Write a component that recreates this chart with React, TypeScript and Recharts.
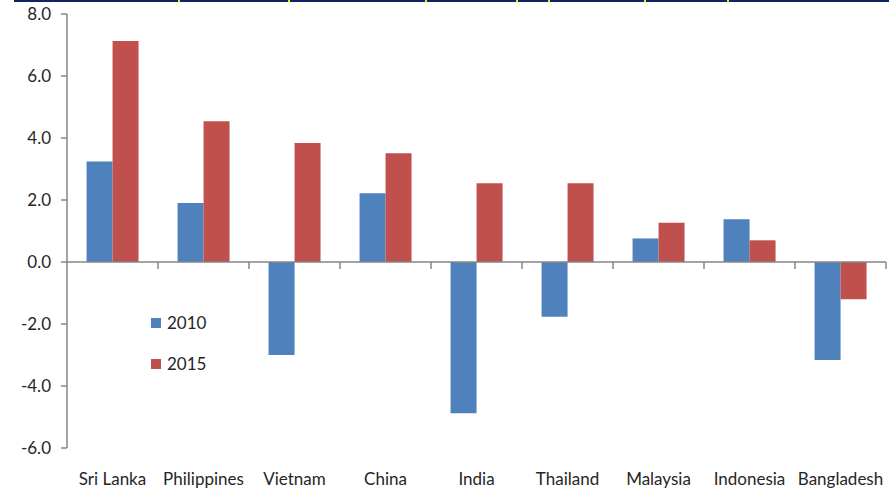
import React from "react";
import { BarChart, Bar, XAxis, YAxis, ReferenceLine, Legend } from "recharts";

// Country categories and yearly values
const countries = [
  "Sri Lanka",
  "Philippines",
  "Vietnam",
  "China",
  "India",
  "Thailand",
  "Malaysia",
  "Indonesia",
  "Bangladesh",
];
const values2010 = [3.24, 1.9, -3.0, 2.22, -4.88, -1.77, 0.76, 1.38, -3.16];
const values2015 = [7.13, 4.54, 3.84, 3.51, 2.54, 2.54, 1.27, 0.7, -1.2];
const yTicks = [-6, -4, -2, 0, 2, 4, 6, 8];

const data = countries.map((name, i) => ({
  name,
  y2010: values2010[i],
  y2015: values2015[i],
}));

const BLUE = "#4F81BD";
const RED = "#C0504D";
const AXIS = "#868686";
const TEXT = "#262626";
const FONT = "Lato, 'Open Sans', sans-serif";

// Header rule remnants along the top edge
const headerMarks = [179, 289, 426, 517, 549, 645, 728];

// Zero line with category separator ticks hanging below it
const ZeroAxis = (props: any) => {
  const { x1, y1, x2, y2 } = props;
  const step = (x2 - x1) / countries.length;
  return (
    <g>
      <line x1={x1} y1={y1} x2={x2} y2={y2} stroke={AXIS} strokeWidth={1.5} />
      {countries.map((c, i) => (
        <line
          key={c}
          x1={x1 + step * (i + 1)}
          x2={x1 + step * (i + 1)}
          y1={y1}
          y2={y1 + 7}
          stroke={AXIS}
          strokeWidth={1.5}
        />
      ))}
    </g>
  );
};

const LegendBox = (props: any) => {
  const { payload } = props;
  return (
    <div style={{ fontFamily: FONT, fontSize: 17, color: TEXT }}>
      {(payload || []).map((p: any) => (
        <div
          key={p.value}
          style={{ display: "flex", alignItems: "center", height: 41 }}
        >
          <span
            style={{
              display: "inline-block",
              width: 10,
              height: 10,
              background: p.color,
              marginRight: 6,
            }}
          />
          <span>{p.value}</span>
        </div>
      ))}
    </div>
  );
};

export default function App() {
  return (
    <div
      style={{
        position: "absolute",
        left: 0,
        top: 0,
        width: 889,
        height: 489,
        background: "#fff",
      }}
    >
      <div
        style={{
          position: "absolute",
          left: 14,
          top: 0,
          width: 875,
          height: 2,
          background: "#0E2466",
        }}
      />
      {headerMarks.map((x) => (
        <div
          key={x}
          style={{
            position: "absolute",
            left: x - 1,
            top: 0,
            width: 2,
            height: 2,
            background: "#F2F200",
          }}
        />
      ))}
      <BarChart
        width={889}
        height={489}
        data={data}
        margin={{ top: 14, right: 3, left: 0, bottom: 0 }}
        barGap={0}
        barCategoryGap="21.5%"
      >
        <XAxis
          dataKey="name"
          axisLine={false}
          tickLine={false}
          height={41}
          tickSize={6}
          tickMargin={19}
          interval={0}
          tick={{ fill: TEXT, fontSize: 17, fontFamily: FONT }}
        />
        <YAxis
          width={67}
          domain={[-6, 8]}
          ticks={yTicks}
          interval={0}
          tickFormatter={(v: number) => v.toFixed(1)}
          axisLine={{ stroke: AXIS, strokeWidth: 1.5 }}
          tickLine={{ stroke: AXIS, strokeWidth: 1.5 }}
          tickSize={6}
          tickMargin={10}
          tick={{ fill: TEXT, fontSize: 17, fontFamily: FONT }}
        />
        <Legend
          layout="vertical"
          align="center"
          verticalAlign="middle"
          content={<LegendBox />}
          wrapperStyle={{ left: 151, top: 302, width: 80 }}
        />
        <Bar dataKey="y2010" name="2010" fill={BLUE} isAnimationActive={false} />
        <Bar dataKey="y2015" name="2015" fill={RED} isAnimationActive={false} />
        <ReferenceLine y={0} shape={<ZeroAxis />} />
      </BarChart>
    </div>
  );
}
